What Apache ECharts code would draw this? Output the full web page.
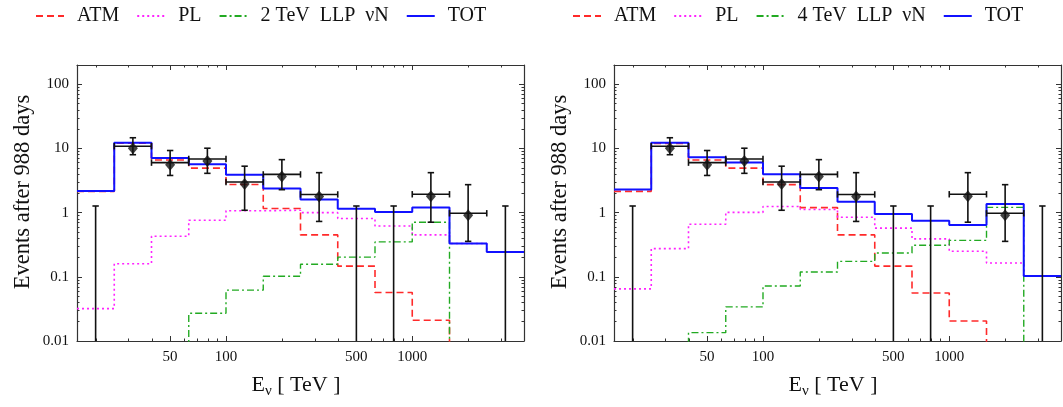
<!DOCTYPE html>
<html><head><meta charset="utf-8">
<script src="https://cdn.jsdelivr.net/npm/echarts@6/dist/echarts.min.js"></script>
<style>html,body{margin:0;padding:0;background:#fff}#c{width:1063px;height:407px}</style>
</head><body><div id="c"></div>
<script>
// ---- data (TeV, events) ----
const binEdges = [15.85, 25.12, 39.81, 63.10, 100, 158.5, 251.2, 398.1, 631.0, 1000, 1585, 2512, 3981];
const xTickLabels = [50, 100, 500, 1000];
const yTickLabels = [0.01, 0.1, 1, 10, 100];
const yMaxValue = 200;

// left panel (2 TeV)
const atm2 = [2.15, 12.1, 6.6, 4.95, 2.74, 1.16, 0.45, 0.147, 0.057, 0.021, 0, 0];
const pl2  = [0.032, 0.16, 0.43, 0.76, 1.07, 1.09, 1.0, 0.81, 0.62, 0.45, 0.33, 0.243];
const llp2 = [0, 0, 0, 0.027, 0.062, 0.102, 0.157, 0.203, 0.35, 0.71, 0, 0];
const tot2 = [2.17, 12.3, 7.1, 5.7, 3.9, 2.37, 1.61, 1.15, 1.02, 1.2, 0.33, 0.243];
// right panel (4 TeV)
const atm4 = [2.15, 12.0, 6.6, 4.95, 2.73, 1.2, 0.45, 0.147, 0.056, 0.0205, 0, 0];
const pl4  = [0.065, 0.275, 0.66, 1.01, 1.25, 1.12, 0.85, 0.575, 0.39, 0.25, 0.164, 0.103];
const llp4 = [0, 0, 0.0135, 0.034, 0.072, 0.119, 0.174, 0.235, 0.31, 0.37, 1.21, 0];
const tot4 = [2.3, 12.3, 7.3, 6.05, 3.95, 2.42, 1.48, 0.95, 0.75, 0.64, 1.36, 0.103];
// IceCube data (shared)
const dataVal = [0, 10.1, 5.6, 6.4, 2.79, 3.67, 1.79, 0, 0, 1.8, 0.91, 0];
const dataHi  = [1.27, 14.7, 9.3, 10.1, 5.3, 6.7, 4.2, 1.27, 1.27, 4.2, 2.73, 1.27];
const dataLo  = [0, 8.0, 3.8, 4.1, 1.09, 2.28, 0.73, 0, 0, 0.71, 0.357, 0];

const llpLabel2 = '2 TeV  LLP  \u03bdN';
const llpLabel4 = '4 TeV  LLP  \u03bdN';

// ---- helpers ----
const lg = Math.log10;
const X_MIN = lg(binEdges[0]), X_MAX = lg(binEdges[binEdges.length - 1]);
const Y_MIN = lg(yTickLabels[0]), Y_MAX = lg(yMaxValue);
const FONT = "'Liberation Serif','DejaVu Serif',serif";
const AX = '#333';

const xMajor = xTickLabels.map(lg);
const xMinor = [];
for (let d = 1; d <= 3; d++) for (let k = 1; k <= 9; k++) {
  const v = k * Math.pow(10, d);
  if (v > binEdges[0] && v < binEdges[12] && xTickLabels.indexOf(v) < 0) xMinor.push(lg(v));
}
const yMajor = yTickLabels.map(lg);
const yMinor = [];
for (let d = -2; d <= 2; d++) for (let k = 2; k <= 9; k++) {
  const v = k * Math.pow(10, d);
  if (v < yMaxValue) yMinor.push(lg(v));
}

function stepData(vals) {
  const pts = vals.map((v, i) => [lg(binEdges[i]), v > 0 ? lg(v) : -3]);
  const last = vals[vals.length - 1];
  pts.push([lg(binEdges[vals.length]), last > 0 ? lg(last) : -3]);
  return pts;
}

const grids = [
  {left: 77, top: 65, width: 447, height: 276},
  {left: 614, top: 65, width: 447, height: 276}
];

const xAxes = [], yAxes = [];
grids.forEach((g, gi) => {
  const bx = {type: 'value', gridIndex: gi, min: X_MIN, max: X_MAX, splitLine: {show: false}};
  const lineOn = {show: true, onZero: false, lineStyle: {color: AX, width: 1.2}};
  const lineOff = {show: false, onZero: false};
  xAxes.push(
    {...bx, position: 'bottom', axisLine: lineOn,
      axisTick: {show: true, inside: true, length: 5, customValues: xMajor, lineStyle: {color: AX, width: 1}},
      axisLabel: {show: true, customValues: xMajor, margin: 9, fontFamily: FONT, fontSize: 15, color: '#111',
        formatter: v => String(Math.round(Math.pow(10, v)))},
      name: '{a|E}{s|\u03bd}{a| [ TeV ]}', nameLocation: 'middle', nameGap: 33,
      nameTextStyle: {padding: [0, 9, 0, 0], rich: {
        a: {fontFamily: FONT, fontSize: 22, color: '#111', lineHeight: 22},
        s: {fontFamily: FONT, fontSize: 15, color: '#111', lineHeight: 15, padding: [12, 0, 0, 0]}}}},
    {...bx, position: 'bottom', axisLine: lineOff,
      axisTick: {show: true, inside: true, length: 2.5, customValues: xMinor, lineStyle: {color: AX, width: 1}},
      axisLabel: {show: false}},
    {...bx, position: 'top', axisLine: lineOn,
      axisTick: {show: true, inside: true, length: 5, customValues: xMajor, lineStyle: {color: AX, width: 1}},
      axisLabel: {show: false}},
    {...bx, position: 'top', axisLine: lineOff,
      axisTick: {show: true, inside: true, length: 2.5, customValues: xMinor, lineStyle: {color: AX, width: 1}},
      axisLabel: {show: false}}
  );
  const by = {type: 'value', gridIndex: gi, min: Y_MIN, max: Y_MAX, splitLine: {show: false}};
  yAxes.push(
    {...by, position: 'left', axisLine: lineOn,
      axisTick: {show: true, inside: true, length: 5, customValues: yMajor, lineStyle: {color: AX, width: 1}},
      axisLabel: {show: true, customValues: yMajor, margin: 8, fontFamily: FONT, fontSize: 15, color: '#111',
        formatter: v => { const p = Math.round(v); return p < 0 ? Math.pow(10, p).toFixed(-p) : String(Math.pow(10, p)); }},
      name: 'Events after 988 days', nameLocation: 'middle', nameGap: 42, nameRotate: 90,
      nameTextStyle: {fontFamily: FONT, fontSize: 22.5, color: '#111', padding: [0, 0, 0, 22]}},
    {...by, position: 'left', axisLine: lineOff,
      axisTick: {show: true, inside: true, length: 2.5, customValues: yMinor, lineStyle: {color: AX, width: 1}},
      axisLabel: {show: false}},
    {...by, position: 'right', axisLine: lineOn,
      axisTick: {show: true, inside: true, length: 5, customValues: yMajor, lineStyle: {color: AX, width: 1}},
      axisLabel: {show: false}},
    {...by, position: 'right', axisLine: lineOff,
      axisTick: {show: true, inside: true, length: 2.5, customValues: yMinor, lineStyle: {color: AX, width: 1}},
      axisLabel: {show: false}}
  );
});

const styles = {
  ATM: {color: '#ff2a2a', width: 1.6, type: [7, 4]},
  PL:  {color: '#ff22ff', width: 1.6, type: [2, 3]},
  LLP: {color: '#22aa22', width: 1.4, type: [7, 3, 2, 3]},
  TOT: {color: '#1111ff', width: 2.0, type: 'solid'}
};

function stepSeries(name, key, vals, gi, z) {
  const s = styles[key];
  return {type: 'line', name, xAxisIndex: gi * 4, yAxisIndex: gi * 4, data: stepData(vals),
    step: 'end', symbol: 'none', showSymbol: false, clip: true, z,
    itemStyle: {color: s.color},
    lineStyle: {color: s.color, width: s.width, type: s.type}};
}

function errData() {
  return dataVal.map((v, i) => {
    const eL = binEdges[i], eR = binEdges[i + 1];
    const xc = (lg(eL) + lg(eR)) / 2;
    const has = v > 0 ? 1 : 0;
    return [xc, has ? lg(v) : Y_MIN, has ? lg(dataLo[i]) : Y_MIN, lg(dataHi[i]), lg(eL), lg(eR), has];
  });
}

function errSeries(gi) {
  return {type: 'custom', xAxisIndex: gi * 4, yAxisIndex: gi * 4, z: 10, data: errData(),
    renderItem: (params, api) => {
      const xc = api.value(0), v = api.value(1), lo = api.value(2), hi = api.value(3);
      const has = api.value(6);
      const pTop = api.coord([xc, hi]);
      const pBot = api.coord([xc, lo]);
      const st = {stroke: '#111', lineWidth: 1.6};
      const cap = 3.2;
      const ch = [
        {type: 'line', shape: {x1: pTop[0], y1: pTop[1], x2: pBot[0], y2: pBot[1]}, style: st},
        {type: 'line', shape: {x1: pTop[0] - cap, y1: pTop[1], x2: pTop[0] + cap, y2: pTop[1]}, style: st}
      ];
      if (has) {
        const pl = api.coord([api.value(4), v]);
        const pr = api.coord([api.value(5), v]);
        const yb = pl[1] - 2;
        ch.push({type: 'line', shape: {x1: pBot[0] - cap, y1: pBot[1], x2: pBot[0] + cap, y2: pBot[1]}, style: st});
        ch.push({type: 'line', shape: {x1: pl[0], y1: yb, x2: pr[0], y2: yb}, style: st});
        ch.push({type: 'line', shape: {x1: pl[0], y1: yb - cap, x2: pl[0], y2: yb + cap}, style: st});
        ch.push({type: 'line', shape: {x1: pr[0], y1: yb - cap, x2: pr[0], y2: yb + cap}, style: st});
      }
      return {type: 'group', children: ch};
    }};
}

function ptsSeries(gi) {
  const d = [];
  dataVal.forEach((v, i) => { if (v > 0) d.push([(lg(binEdges[i]) + lg(binEdges[i + 1])) / 2, lg(v)]); });
  return {type: 'scatter', xAxisIndex: gi * 4, yAxisIndex: gi * 4, z: 11, data: d,
    symbol: 'diamond', symbolSize: [10, 12], itemStyle: {color: '#111'}};
}

const series = [
  stepSeries('ATM', 'ATM', atm2, 0, 2), stepSeries('PL', 'PL', pl2, 0, 3),
  stepSeries(llpLabel2, 'LLP', llp2, 0, 4), stepSeries('TOT', 'TOT', tot2, 0, 5),
  errSeries(0), ptsSeries(0),
  stepSeries('ATM', 'ATM', atm4, 1, 2), stepSeries('PL', 'PL', pl4, 1, 3),
  stepSeries(llpLabel4, 'LLP', llp4, 1, 4), stepSeries('TOT', 'TOT', tot4, 1, 5),
  errSeries(1), ptsSeries(1)
];

const legendBase = {top: 6, itemWidth: 28, itemHeight: 14, itemGap: 17, padding: 0, selectedMode: false,
  itemStyle: {color: 'rgba(0,0,0,0)', borderColor: 'rgba(0,0,0,0)', borderWidth: 0, opacity: 0},
  textStyle: {fontFamily: FONT, fontSize: 20, color: '#111', padding: [0, 0, 0, 8]}};

const chart = echarts.init(document.getElementById('c'), null, {renderer: 'canvas'});
chart.setOption({
  animation: false,
  backgroundColor: '#fff',
  grid: grids,
  xAxis: xAxes,
  yAxis: yAxes,
  legend: [
    {...legendBase, left: 35, data: ['ATM', 'PL', llpLabel2, 'TOT']},
    {...legendBase, left: 572, data: ['ATM', 'PL', llpLabel4, 'TOT']}
  ],
  series
});
</script></body></html>
